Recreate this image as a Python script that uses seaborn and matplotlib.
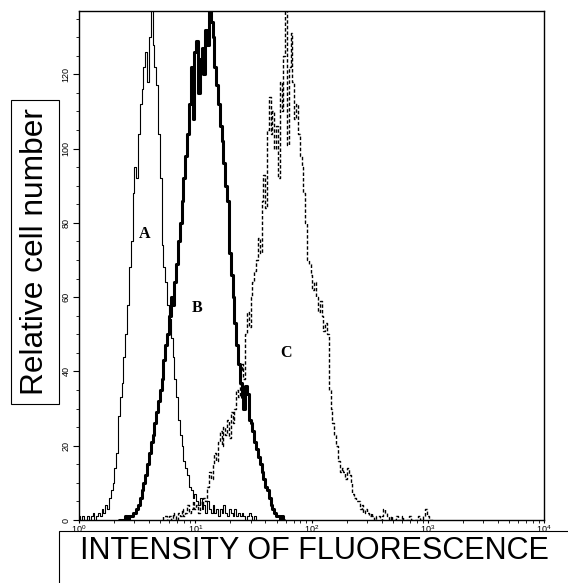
import numpy as np
import pandas as pd
import seaborn as sns
import matplotlib.pyplot as plt
from matplotlib.patches import Rectangle
from matplotlib.ticker import MultipleLocator, LogLocator

# 4-decade log amplifier, 64 channels per decade
CHANNELS_PER_DECADE = 64

# histogram A (thin line), counts from channel 0
a_start = 0
a_counts = [1, 0, 1, 0, 0, 1, 0, 1, 2, 0,
            1, 2, 1, 3, 2, 4, 3, 6, 8, 10,
            14, 18, 28, 33, 37, 44, 50, 58, 68, 75,
            88, 95, 92, 104, 112, 116, 122, 126, 118, 130,
            138, 128, 122, 117, 104, 92, 74, 68, 64, 58,
            54, 49, 44, 38, 33, 27, 23, 20, 16, 14,
            12, 9, 8, 6, 7, 5, 4, 6, 3, 4,
            2, 5, 3, 2, 4, 2, 3, 1, 3, 2,
            4, 2, 1, 3, 2, 1, 3, 1, 2, 1,
            2, 1, 0, 1, 2, 1, 0, 1, 0]

# histogram B (thick line), counts from channel 22
b_start = 22
b_counts = [0, 0, 0, 0, 1, 0, 1, 1, 2, 2,
            3, 4, 6, 8, 10, 12, 15, 18, 21, 23,
            26, 29, 32, 35, 38, 43, 47, 50, 55, 60,
            58, 64, 69, 75, 80, 86, 92, 98, 104, 112,
            122, 108, 126, 129, 115, 124, 127, 120, 132, 128,
            138, 134, 130, 122, 117, 112, 106, 102, 96, 90,
            86, 72, 66, 60, 53, 47, 42, 37, 33, 30,
            36, 34, 27, 26, 24, 21, 19, 17, 15, 13,
            11, 9, 8, 6, 4, 3, 2, 1, 1, 0, 1, 0]

# histogram C (dashed line), counts from channel 46
c_start = 46
c_counts = [0, 1, 1, 0, 1, 0, 2, 1, 0, 2,
            1, 3, 1, 2, 4, 2, 3, 5, 3, 4,
            2, 5, 4, 6, 5, 9, 13, 11, 15, 18,
            16, 21, 24, 20, 25, 23, 27, 22, 29, 26,
            30, 35, 33, 40, 42, 38, 50, 56, 52, 60,
            64, 67, 70, 76, 72, 86, 93, 84, 105, 114,
            104, 110, 100, 106, 92, 118, 110, 125, 138, 101,
            122, 131, 118, 108, 112, 104, 98, 95, 88, 80,
            70, 69, 66, 62, 64, 60, 56, 59, 55, 51,
            53, 50, 35, 30, 26, 23, 20, 16, 13, 14,
            13, 11, 14, 12, 10, 7, 6, 5, 5, 3,
            4, 2, 3, 2, 1, 2, 1, 0, 1, 1,
            0, 1, 3, 2, 1, 0, 1, 0, 0, 1,
            0, 0, 1, 0, 0, 0, 1, 0, 0, 0,
            0, 1, 0, 0, 1, 3, 1, 0, 0, 0]

curve_labels = ['A', 'B', 'C']
label_x = [3.7, 10.4, 60]
label_y = [77, 57, 45]


def to_frame(counts, start, name):
    ch = np.arange(start, start + len(counts))
    return pd.DataFrame({
        'fluorescence': 10.0 ** (ch / CHANNELS_PER_DECADE),
        'count': counts,
        'sample': name,
    })


sns.set_style('ticks', {'axes.edgecolor': 'black', 'text.color': 'black',
                        'xtick.color': 'black', 'ytick.color': 'black'})
plt.rcParams['font.family'] = ['Liberation Sans', 'DejaVu Sans']
plt.rcParams['axes.linewidth'] = 1.0

fig = plt.figure(figsize=(5.68, 5.83), dpi=100)
ax = fig.add_axes([0.139, 0.108, 0.819, 0.873])
ax.set_xscale('log')

styles = [
    dict(linewidth=0.8, linestyle='-'),
    dict(linewidth=2.2, linestyle='-'),
    dict(linewidth=1.0, linestyle=(0, (2.5, 1.5))),
]
frames = [to_frame(a_counts, a_start, 'A'),
          to_frame(b_counts, b_start, 'B'),
          to_frame(c_counts, c_start, 'C')]
for df, st in zip(frames, styles):
    sns.lineplot(data=df, x='fluorescence', y='count', color='black',
                 drawstyle='steps-mid', estimator=None, ax=ax, **st)

ax.set_xlim(1, 1e4)
ax.set_ylim(0, 137)
ax.set_xlabel('')
ax.set_ylabel('')

ax.yaxis.set_major_locator(MultipleLocator(20))
ax.yaxis.set_minor_locator(MultipleLocator(5))
ax.xaxis.set_major_locator(LogLocator(base=10))
ax.xaxis.set_minor_locator(LogLocator(base=10, subs=range(2, 10)))
ax.tick_params(axis='y', which='major', length=4, width=0.8, labelsize=6.5,
               labelrotation=90, pad=2)
ax.tick_params(axis='y', which='minor', length=2, width=0.6)
ax.tick_params(axis='x', which='major', length=2.5, width=0.8, labelsize=6.5, pad=0)
ax.tick_params(axis='x', which='minor', length=2.5, width=0.6)
for lab in ax.get_yticklabels():
    lab.set_va('center')

for t, x, y in zip(curve_labels, label_x, label_y):
    ax.text(x, y, t, ha='center', va='center', fontsize=11.5, fontweight='bold',
            family=['Liberation Serif', 'DejaVu Serif'])

# boxed axis titles, as in the scanned figure
fig.patches.append(Rectangle((0.1039, -0.05), 1.0, 0.1392, transform=fig.transFigure,
                             fill=False, ec='black', lw=0.8))
fig.text(0.553, 0.0549, 'INTENSITY OF FLUORESCENCE', ha='center', va='center',
         fontsize=22)
box = dict(boxstyle='square,pad=0.28', fc='white', ec='black', lw=0.8)
fig.text(0.0616, 0.568, 'Relative cell number', ha='center', va='center',
         rotation=90, fontsize=22.8, bbox=box)

fig.savefig('out.png', dpi=100)
plt.close()
